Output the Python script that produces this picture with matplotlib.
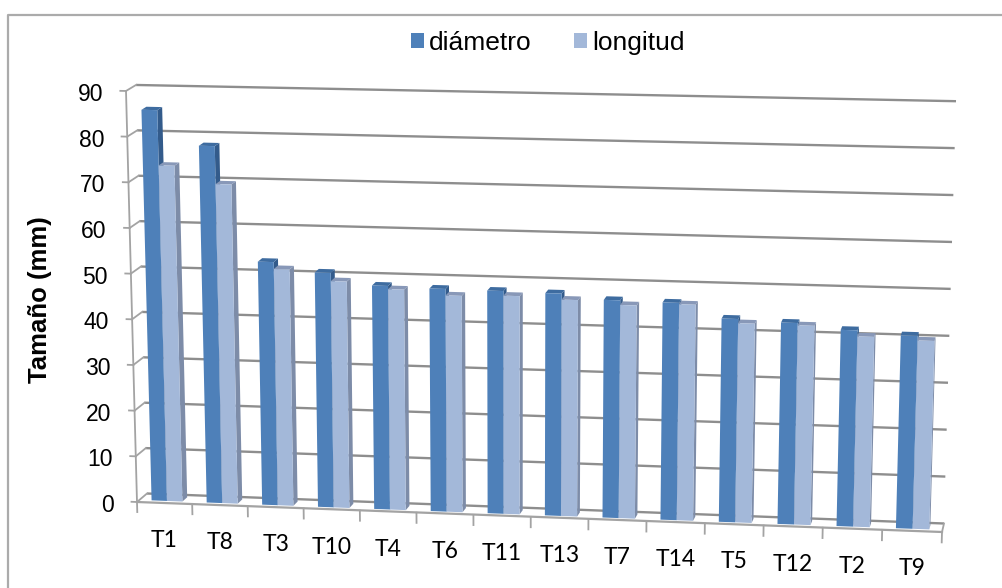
import numpy as np
import matplotlib
matplotlib.use("Agg")
import matplotlib.pyplot as plt
from matplotlib.transforms import Transform, offset_copy
from matplotlib.patches import Polygon, Patch
from matplotlib.lines import Line2D

# ---------------------------------------------------------------- data
categories = ["T1", "T8", "T3", "T10", "T4", "T6", "T11",
              "T13", "T7", "T14", "T5", "T12", "T2", "T9"]
diametro = [85.6, 78.0, 53.0, 51.0, 48.5, 48.2, 48.1,
            47.9, 46.8, 46.6, 43.5, 43.0, 41.8, 41.0]
longitud = [73.5, 69.7, 51.5, 49.2, 47.8, 46.8, 47.1,
            46.6, 45.8, 46.3, 42.6, 42.5, 40.5, 40.0]
series_names = ["diámetro", "longitud"]
y_ticks = [0, 10, 20, 30, 40, 50, 60, 70, 80, 90]
y_max = 90
axis_title = "Tamaño (mm)"

# colours: front / side / top faces
face_colors = {
    "diámetro": ("#4E80B9", "#335B8B", "#3E6CA0"),
    "longitud": ("#A3B8D9", "#7D8CA8", "#8898B8"),
}
grid_color = "#8E8E8E"
axis_color = "#A3A3A3"

W, H = 1003, 588
N = len(categories)


# ---------------------------------------------------------------- 3-D projection
def project(u, v, d):
    """Map (category position u, value v, depth d in [0,1]) to pixel coords."""
    u = np.asarray(u, float)
    v = np.asarray(v, float)
    d = np.asarray(d, float)
    t = u / N
    xb = 137.0 + 55.0 * u + (5.0 / 28.0) * u ** 2
    lean = (-11.0 + 23.0 * t) * v / y_max
    scale = 4.567 + 0.153 * t
    yb = 502.0 + 30.0 * t
    dx = 10.0 - 8.0 * t
    dy = -8.5 + 2.5 * v / y_max
    x = xb + lean + d * dx
    y = yb - scale * v + d * dy
    return x, y


class PlaneTransform(Transform):
    """Coordinates on one plane of the 3-D box.

    kind='depth': (u, v) at fixed depth
    kind='u'    : (d, v) at fixed category position
    kind='v'    : (u, d) at fixed value
    """
    input_dims = 2
    output_dims = 2
    is_separable = False
    has_inverse = False

    def __init__(self, kind, level):
        super().__init__()
        self.kind = kind
        self.level = level

    def transform_non_affine(self, values):
        arr = np.asarray(values, float)
        pts = arr.reshape(-1, 2)
        a, b = pts[:, 0], pts[:, 1]
        if self.kind == "depth":
            x, y = project(a, b, self.level)
        elif self.kind == "u":
            x, y = project(self.level, b, a)
        else:
            x, y = project(a, self.level, b)
        out = np.column_stack([x, y])
        return out.reshape(arr.shape)


fig = plt.figure(figsize=(W / 100, H / 100), dpi=100)
ax = fig.add_axes([0, 0, 1, 1])
ax.set_xlim(0, W)
ax.set_ylim(H, 0)
ax.axis("off")


def plane(kind, level):
    return PlaneTransform(kind, level) + ax.transData


front = plane("depth", 0.0)
back = plane("depth", 1.0)

# ---------------------------------------------------------------- walls & grid
for v in y_ticks:
    ax.add_artist(Line2D([0, N], [v, v], transform=back,
                         color=grid_color, lw=1.7, zorder=1,
                         solid_capstyle="butt"))
    ax.add_artist(Line2D([0, 1], [v, v], transform=plane("u", 0.0),
                         color=axis_color, lw=1.3, zorder=1))
    ax.add_artist(Line2D([-0.1, 0], [v, v], transform=front,
                         color=axis_color, lw=1.3, zorder=1))
    ax.text(0, v, str(v), transform=offset_copy(front, fig=fig, x=-23, y=-10,
                                                units="dots"),
            ha="right", va="baseline", fontsize=16.5,
            family="Liberation Sans", color="#000000")

# value axis
ax.add_artist(Line2D([0, 0], [0, y_max], transform=front,
                     color=axis_color, lw=1.3, zorder=1))
# floor front edge and right edge
ax.add_artist(Line2D([0, N], [0, 0], transform=front,
                     color=axis_color, lw=1.6, zorder=1))
ax.add_artist(Line2D([0, 1], [0, 0], transform=plane("u", float(N)),
                     color=axis_color, lw=1.3, zorder=1))
# category ticks
for i in range(N + 1):
    ax.add_artist(Line2D([i, i], [0, -2.2], transform=front,
                         color=axis_color, lw=1.3, zorder=1))

# ---------------------------------------------------------------- bars
d0, bd = 0.25, 0.5
offsets = {"diámetro": (0.22, 0.50), "longitud": (0.50, 0.78)}
values = {"diámetro": diametro, "longitud": longitud}

for i in range(N):
    for name in series_names:
        val = values[name][i]
        u0, u1 = i + offsets[name][0], i + offsets[name][1]
        c_front, c_side, c_top = face_colors[name]
        # right side face
        ax.add_artist(Polygon([[d0, 0], [d0, val], [d0 + bd, val], [d0 + bd, 0]],
                              closed=True, transform=plane("u", u1),
                              facecolor=c_side, edgecolor="none", zorder=2))
        # top face
        ax.add_artist(Polygon([[u0, d0], [u1, d0], [u1, d0 + bd], [u0, d0 + bd]],
                              closed=True, transform=plane("v", val),
                              facecolor=c_top, edgecolor="none", zorder=2))
        # front face
        ax.add_artist(Polygon([[u0, 0], [u1, 0], [u1, val], [u0, val]],
                              closed=True, transform=plane("depth", d0),
                              facecolor=c_front, edgecolor="none", zorder=2))

# category labels
for i, lab in enumerate(categories):
    ax.text(i + 0.5, 0, lab,
            transform=offset_copy(front, fig=fig, x=0, y=-44, units="dots"),
            ha="center", va="baseline", fontsize=16.5, family="Lato",
            color="#000000")

# ---------------------------------------------------------------- titles, legend, frame
fig.text(40 / W, 1 - 300 / H, axis_title, rotation=90, ha="center",
         va="center", fontsize=18.5, fontweight="bold",
         family="Liberation Sans")

handles = [Patch(facecolor=face_colors[n][0], edgecolor="none") for n in series_names]
fig.legend(handles, series_names, loc="center", ncol=2,
           bbox_to_anchor=(548 / W, 1 - 43 / H), frameon=False,
           prop={"family": "Liberation Sans", "size": 19},
           handlelength=0.5, handleheight=0.5, handletextpad=0.2,
           columnspacing=1.6, borderpad=0)

ax.add_artist(Line2D([8, 8, W + 5], [H + 5, 15, 15], color="#ABABAB",
                     lw=1.6, zorder=0))

fig.savefig("out.png", dpi=100)
